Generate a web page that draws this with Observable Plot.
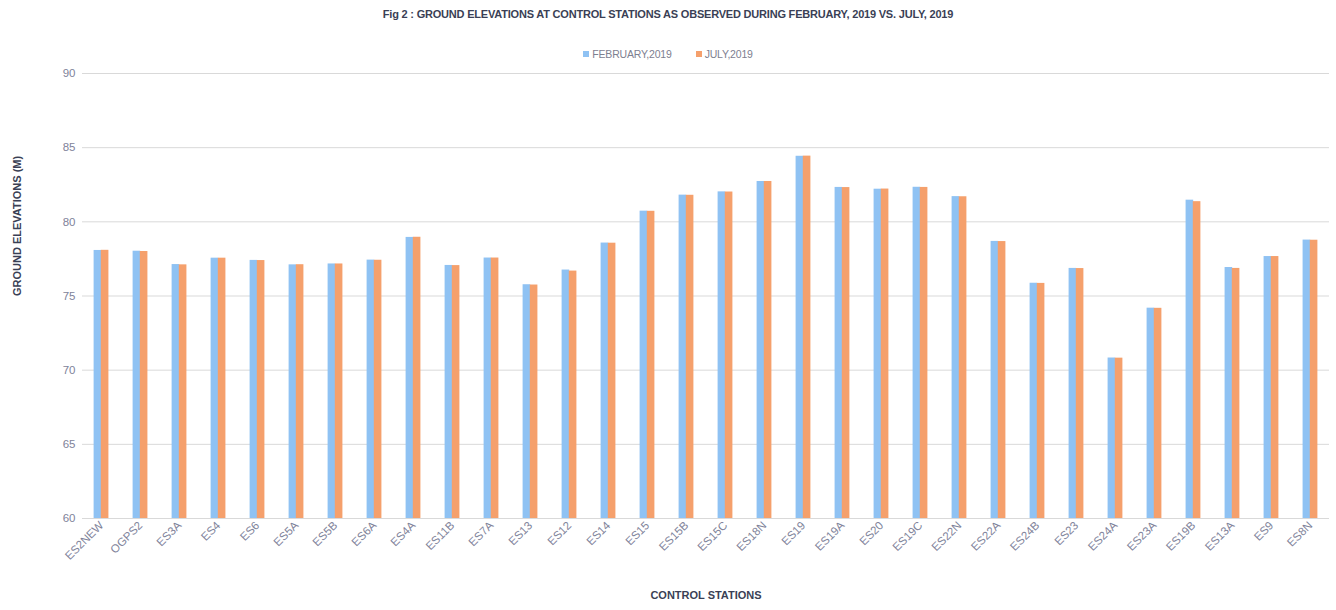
<!DOCTYPE html>
<html>
<head>
<meta charset="utf-8">
<script src="https://cdn.jsdelivr.net/npm/d3@7"></script>
<script src="https://cdn.jsdelivr.net/npm/@observablehq/plot@0.6"></script>
<style>
  html, body { margin: 0; padding: 0; background: #fff; width: 1336px; height: 610px; overflow: hidden; }
  #title { height: 28px; line-height: 28px; text-align: center; font-family: "Liberation Sans", sans-serif; font-weight: bold; font-size: 11px; color: #3a3f55; letter-spacing: -0.2px; }
  #legend { height: 18px; padding-top: 18px; line-height: 16px; text-align: center; font-family: "Liberation Sans", sans-serif; font-size: 10.5px; color: #7d8090; letter-spacing: -0.2px; }
  #legend span.sw { display: inline-block; width: 6px; height: 6px; margin-right: 3px; vertical-align: 1px; }
  #legend span.item { margin: 0 12px; }
  #chart svg { display: block; }
</style>
</head>
<body>
<div id="title"></div>
<div id="legend"></div>
<div id="chart"></div>
<script>
const titleText = "Fig 2 : GROUND ELEVATIONS AT CONTROL STATIONS AS OBSERVED DURING FEBRUARY, 2019 VS. JULY, 2019";
const xTitle = "CONTROL STATIONS";
const yTitle = "GROUND ELEVATIONS (M)";
const seriesNames = ["FEBRUARY,2019", "JULY,2019"];
const seriesColors = ["#8fc2f3", "#f5a06c"];
const stations = ["ES2NEW","OGPS2","ES3A","ES4","ES6","ES5A","ES5B","ES6A","ES4A","ES11B","ES7A","ES13","ES12","ES14","ES15","ES15B","ES15C","ES18N","ES19","ES19A","ES20","ES19C","ES22N","ES22A","ES24B","ES23","ES24A","ES23A","ES19B","ES13A","ES9","ES8N"];
const feb = [78.07,78.02,77.12,77.55,77.40,77.10,77.16,77.42,78.95,77.06,77.56,75.76,76.75,78.57,80.72,81.80,82.02,82.72,84.42,82.32,82.20,82.33,81.70,78.68,75.86,76.86,70.82,74.18,81.46,76.92,77.66,78.77];
const jul = [78.08,78.00,77.10,77.55,77.39,77.11,77.16,77.41,78.96,77.05,77.56,75.74,76.68,78.56,80.71,81.79,82.01,82.72,84.43,82.31,82.21,82.32,81.69,78.67,75.85,76.85,70.81,74.17,81.36,76.86,77.66,78.76];
const yTicks = [60,65,70,75,80,85,90];

document.getElementById("title").textContent = titleText;
const leg = document.getElementById("legend");
seriesNames.forEach((n, i) => {
  const item = document.createElement("span");
  item.className = "item";
  const sw = document.createElement("span");
  sw.className = "sw";
  sw.style.background = seriesColors[i];
  item.appendChild(sw);
  item.appendChild(document.createTextNode(n));
  leg.appendChild(item);
});

const barW = 7.6;
const chart = Plot.plot({
  width: 1336,
  height: 546,
  marginLeft: 82,
  marginRight: 7,
  marginTop: 9,
  marginBottom: 92,
  style: { fontFamily: "'Liberation Sans', sans-serif", fontSize: "11.5px", color: "#80839a", background: "#fff" },
  x: { domain: stations, paddingInner: 0.805, paddingOuter: 0.39, label: null, tickSize: 0, tickPadding: 5, tickRotate: -45 },
  y: { domain: [60, 90], ticks: yTicks, label: null, tickSize: 0, tickPadding: 7 },
  marks: [
    Plot.ruleY(yTicks, { stroke: "#d9d9d9", strokeWidth: 1 }),
    Plot.barY(stations, { x: stations, y1: 60, y2: feb, fill: seriesColors[0], dx: -barW / 2 + 0.2 }),
    Plot.barY(stations, { x: stations, y1: 60, y2: jul, fill: seriesColors[1], dx: barW / 2 - 0.2 }),
    Plot.text([yTitle], { frameAnchor: "left", rotate: -90, dx: -65, fontWeight: "bold", fontSize: 11, fill: "#3a3f55" }),
    Plot.text([xTitle], { frameAnchor: "bottom", dy: 80, fontWeight: "bold", fontSize: 11, fill: "#3a3f55" })
  ]
});
document.getElementById("chart").appendChild(chart);
</script>
</body>
</html>
